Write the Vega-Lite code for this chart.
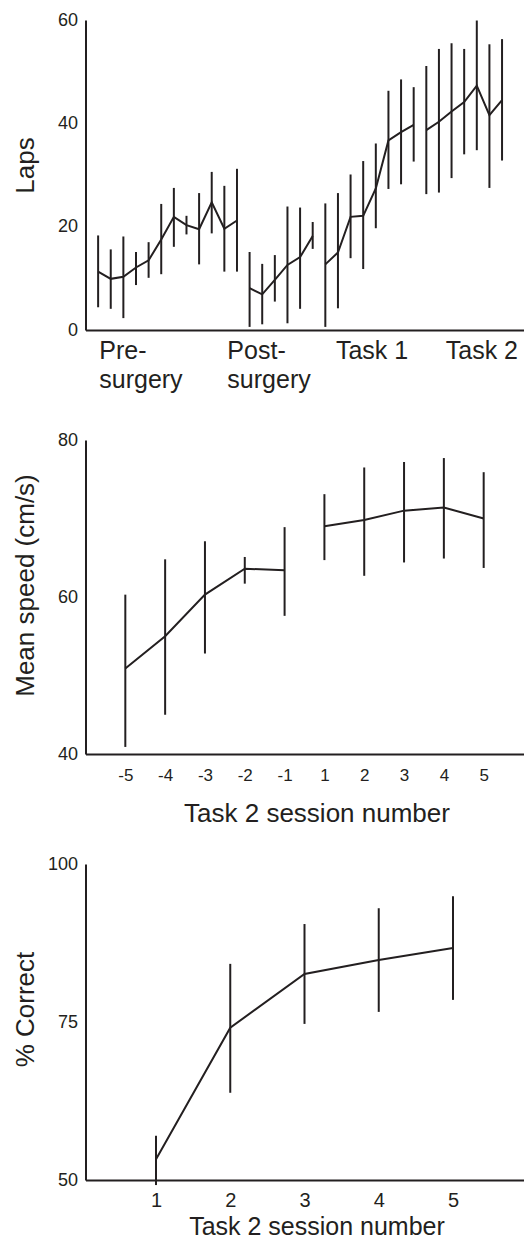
{
  "$schema": "https://vega.github.io/schema/vega-lite/v6.json",
  "padding": {"left": 11.5, "top": 11, "right": 0, "bottom": 0},
  "spacing": 110,
  "bounds": "flush",
  "config": {
    "view": {"stroke": null},
    "font": "Liberation Sans",
    "axis": {
      "domainColor": "#231f20", "domainWidth": 2, "ticks": false, "tickSize": 0, "grid": false,
      "labelColor": "#231f20", "titleColor": "#231f20", "titleFontWeight": "normal", "titleFontSize": 26,
      "labelFont": "Liberation Sans", "titleFont": "Liberation Sans", "labelOverlap": false, "labelFlush": false
    },
    "axisY": {
      "titleX": -52, "titleY": 145, "titleBaseline": "alphabetic", "titleAngle": -90, "titleAlign": "center",
      "labelPadding": 8, "labelFontSize": 18
    }
  },
  "vconcat": [
    {
      "width": 438, "height": 310,
      "data": {"values": [
        {"i": 1, "phase": "Pre", "mean": 11.3, "lo": 4.4, "hi": 18.3},
        {"i": 2, "phase": "Pre", "mean": 9.9, "lo": 4.1, "hi": 15.6},
        {"i": 3, "phase": "Pre", "mean": 10.3, "lo": 2.3, "hi": 18.1},
        {"i": 4, "phase": "Pre", "mean": 12.1, "lo": 8.7, "hi": 15.1},
        {"i": 5, "phase": "Pre", "mean": 13.5, "lo": 10.1, "hi": 17.0},
        {"i": 6, "phase": "Pre", "mean": 17.5, "lo": 10.8, "hi": 24.4},
        {"i": 7, "phase": "Pre", "mean": 21.9, "lo": 16.1, "hi": 27.5},
        {"i": 8, "phase": "Pre", "mean": 20.3, "lo": 18.5, "hi": 22.1},
        {"i": 9, "phase": "Pre", "mean": 19.5, "lo": 12.7, "hi": 26.5},
        {"i": 10, "phase": "Pre", "mean": 24.7, "lo": 18.7, "hi": 30.6},
        {"i": 11, "phase": "Pre", "mean": 19.6, "lo": 11.3, "hi": 27.9},
        {"i": 12, "phase": "Pre", "mean": 21.2, "lo": 11.3, "hi": 31.2},
        {"i": 13, "phase": "Post", "mean": 8.1, "lo": 0.6, "hi": 15.1},
        {"i": 14, "phase": "Post", "mean": 6.9, "lo": 1.1, "hi": 12.8},
        {"i": 15, "phase": "Post", "mean": 9.7, "lo": 5.5, "hi": 14.5},
        {"i": 16, "phase": "Post", "mean": 12.6, "lo": 1.3, "hi": 23.9},
        {"i": 17, "phase": "Post", "mean": 14.1, "lo": 4.1, "hi": 23.7},
        {"i": 18, "phase": "Post", "mean": 18.2, "lo": 15.7, "hi": 20.9},
        {"i": 19, "phase": "Task 1", "mean": 12.7, "lo": 0.6, "hi": 24.5},
        {"i": 20, "phase": "Task 1", "mean": 15.0, "lo": 4.2, "hi": 26.5},
        {"i": 21, "phase": "Task 1", "mean": 21.9, "lo": 13.9, "hi": 30.1},
        {"i": 22, "phase": "Task 1", "mean": 22.1, "lo": 11.8, "hi": 32.7},
        {"i": 23, "phase": "Task 1", "mean": 27.4, "lo": 19.7, "hi": 36.1},
        {"i": 24, "phase": "Task 1", "mean": 36.7, "lo": 27.3, "hi": 46.3},
        {"i": 25, "phase": "Task 1", "mean": 38.3, "lo": 28.2, "hi": 48.5},
        {"i": 26, "phase": "Task 1", "mean": 39.7, "lo": 32.6, "hi": 47.0},
        {"i": 27, "phase": "Task 2", "mean": 38.7, "lo": 26.3, "hi": 51.1},
        {"i": 28, "phase": "Task 2", "mean": 40.3, "lo": 26.6, "hi": 54.4},
        {"i": 29, "phase": "Task 2", "mean": 42.3, "lo": 29.4, "hi": 55.5},
        {"i": 30, "phase": "Task 2", "mean": 44.1, "lo": 34.0, "hi": 54.4},
        {"i": 31, "phase": "Task 2", "mean": 47.3, "lo": 34.8, "hi": 59.9},
        {"i": 32, "phase": "Task 2", "mean": 41.6, "lo": 27.5, "hi": 55.3},
        {"i": 33, "phase": "Task 2", "mean": 44.5, "lo": 32.8, "hi": 56.3}
      ]},
      "layer": [
        {
          "mark": {"type": "rule", "color": "#231f20", "strokeWidth": 2},
          "encoding": {
            "x": {"field": "i", "type": "quantitative",
              "scale": {"domain": [0, 34.7], "nice": false, "zero": false},
              "axis": {"values": [1.05, 11.2, 19.8, 28.5], "title": null,
                "labelExpr": "datum.value < 5 ? ['Pre-', 'surgery'] : datum.value < 15 ? ['Post-', 'surgery'] : datum.value < 25 ? 'Task 1' : 'Task 2'",
                "labelAlign": "left", "labelBaseline": "alphabetic", "labelPadding": 28,
                "labelFontSize": 25, "labelLineHeight": 29, "labelBound": false}},
            "y": {"field": "lo", "type": "quantitative",
              "scale": {"domain": [0, 60], "nice": false},
              "axis": {"values": [0, 20, 40, 60], "title": "Laps"}},
            "y2": {"field": "hi"}
          }
        },
        {
          "mark": {"type": "line", "color": "#231f20", "strokeWidth": 2},
          "encoding": {
            "x": {"field": "i", "type": "quantitative"},
            "y": {"field": "mean", "type": "quantitative"},
            "detail": {"field": "phase"}
          }
        }
      ]
    },
    {
      "width": 438, "height": 314,
      "data": {"values": [
        {"session": -5, "phase": "before", "mean": 50.9, "lo": 40.9, "hi": 60.3},
        {"session": -4, "phase": "before", "mean": 55.0, "lo": 45.0, "hi": 64.8},
        {"session": -3, "phase": "before", "mean": 60.3, "lo": 52.8, "hi": 67.1},
        {"session": -2, "phase": "before", "mean": 63.6, "lo": 61.7, "hi": 65.1},
        {"session": -1, "phase": "before", "mean": 63.4, "lo": 57.6, "hi": 68.9},
        {"session": 1, "phase": "after", "mean": 69.0, "lo": 64.7, "hi": 73.1},
        {"session": 2, "phase": "after", "mean": 69.8, "lo": 62.7, "hi": 76.5},
        {"session": 3, "phase": "after", "mean": 71.0, "lo": 64.4, "hi": 77.2},
        {"session": 4, "phase": "after", "mean": 71.4, "lo": 64.9, "hi": 77.7},
        {"session": 5, "phase": "after", "mean": 70.0, "lo": 63.7, "hi": 75.9}
      ]},
      "layer": [
        {
          "mark": {"type": "rule", "color": "#231f20", "strokeWidth": 2},
          "encoding": {
            "x": {"field": "session", "type": "ordinal",
              "scale": {"type": "point", "domain": [-5, -4, -3, -2, -1, 1, 2, 3, 4, 5], "padding": 1},
              "axis": {"labelAngle": 0, "labelFontSize": 17, "labelBaseline": "alphabetic", "labelPadding": 26,
                "title": "Task 2 session number", "titleX": 231, "titleY": 67, "titleBaseline": "alphabetic", "titleAlign": "center"}},
            "y": {"field": "lo", "type": "quantitative",
              "scale": {"domain": [40, 80], "nice": false, "zero": false},
              "axis": {"values": [40, 60, 80], "title": "Mean speed (cm/s)"}},
            "y2": {"field": "hi"}
          }
        },
        {
          "mark": {"type": "line", "color": "#231f20", "strokeWidth": 2},
          "encoding": {
            "x": {"field": "session", "type": "ordinal"},
            "y": {"field": "mean", "type": "quantitative"},
            "detail": {"field": "phase"}
          }
        }
      ]
    },
    {
      "width": 438, "height": 316,
      "data": {"values": [
        {"session": 1, "mean": 53.3, "lo": 49.2, "hi": 57.0},
        {"session": 2, "mean": 74.1, "lo": 63.8, "hi": 84.2},
        {"session": 3, "mean": 82.6, "lo": 74.7, "hi": 90.5},
        {"session": 4, "mean": 84.8, "lo": 76.6, "hi": 93.0},
        {"session": 5, "mean": 86.7, "lo": 78.5, "hi": 94.9}
      ]},
      "layer": [
        {
          "mark": {"type": "rule", "color": "#231f20", "strokeWidth": 2},
          "encoding": {
            "x": {"field": "session", "type": "ordinal",
              "scale": {"type": "point", "domain": [1, 2, 3, 4, 5], "padding": 0.95},
              "axis": {"labelAngle": 0, "labelFontSize": 20, "labelBaseline": "alphabetic", "labelPadding": 26,
                "title": "Task 2 session number", "titleFontSize": 25, "titleX": 231, "titleY": 54, "titleBaseline": "alphabetic", "titleAlign": "center"}},
            "y": {"field": "lo", "type": "quantitative",
              "scale": {"domain": [50, 100], "nice": false, "zero": false},
              "axis": {"values": [50, 75, 100], "title": "% Correct"}},
            "y2": {"field": "hi"}
          }
        },
        {
          "mark": {"type": "line", "color": "#231f20", "strokeWidth": 2},
          "encoding": {
            "x": {"field": "session", "type": "ordinal"},
            "y": {"field": "mean", "type": "quantitative"}
          }
        }
      ]
    }
  ]
}
